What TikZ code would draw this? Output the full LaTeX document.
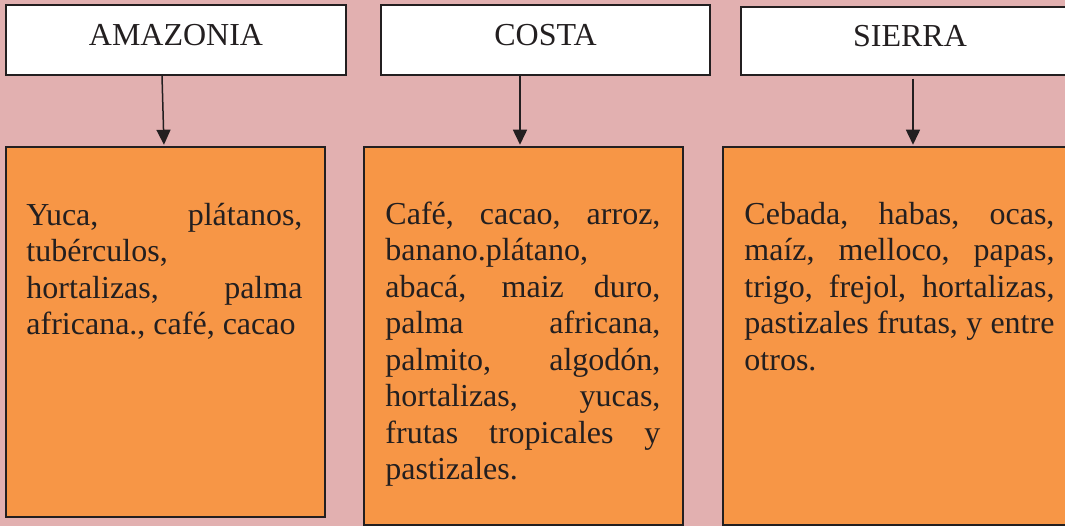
\documentclass[tikz,border=0pt]{standalone}
\usepackage{fontspec}
\setmainfont{Liberation Serif}
\usetikzlibrary{arrows.meta}
\definecolor{regPink}{HTML}{E2B0B0}
\definecolor{regOrange}{HTML}{F79646}
\definecolor{regInk}{HTML}{231F20}
\tikzset{
  reg header/.style={draw=regInk, fill=white, line width=1.5pt, inner sep=0pt, minimum height=70pt, text depth=11pt, font=\fontsize{32}{38}\selectfont, text=regInk},
  reg crop box/.style={draw=regInk, fill=regOrange, line width=1.5pt, inner sep=0pt, minimum width=319pt},
  reg crop text/.style={anchor=base west, inner sep=0pt, align=justify, text=regInk, font=\fontsize{32}{36.5}\selectfont},
  reg arrow/.style={draw=regInk, line width=1.5pt, -{Triangle[width=14pt,length=15pt]}},
}
\hyphenpenalty=10000
\tolerance=10000

\begin{document}
\begin{tikzpicture}[x=1pt,y=-1pt]
  \useasboundingbox (0,0) rectangle (1065,526);
  \clip (0,0) rectangle (1065,526);
  \fill[regPink] (0,0) rectangle (1065,526);

  % headers
  \node[reg header, minimum width=340pt] (amazonia) at (176,40) {AMAZONIA};
  \node[reg header, minimum width=329pt] (costa) at (545.5,40) {COSTA};
  \node[reg header, minimum width=338pt, minimum height=68pt] (sierra) at (910,41) {SIERRA};

  % crop boxes
  \node[reg crop box, minimum height=370pt] (amazoniaBox) at (165.5,332) {};
  \node[reg crop box, minimum height=378pt] (costaBox) at (523.5,336) {};
  \node[reg crop box, minimum height=378pt, minimum width=354pt] (sierraBox) at (900,336) {};

  \node[reg crop text, text width=276pt] (amazoniaTxt) at ([xshift=21pt,yshift=-79pt]amazoniaBox.north west)
    {Yuca, pl\'atanos,\linebreak tub\'erculos,\newline hortalizas, palma\linebreak africana., caf\'e, cacao};
  \node[reg crop text, text width=275pt] (costaTxt) at ([xshift=22pt,yshift=-78pt]costaBox.north west)
    {Caf\'e, cacao, arroz,\linebreak banano.pl\'atano,\newline abac\'a, maiz duro,\linebreak palma africana,\linebreak
     palmito, algod\'on,\linebreak hortalizas, yucas,\linebreak frutas tropicales y\linebreak pastizales.};
  \node[reg crop text, text width=310pt] (sierraTxt) at ([xshift=22pt,yshift=-78pt]sierraBox.north west)
    {Cebada, habas, ocas,\linebreak ma\'iz, melloco, papas,\linebreak trigo, frejol, hortalizas,\linebreak
     pastizales frutas, y entre\linebreak otros.};

  % connectors
  \draw[reg arrow, shorten >=1.5pt] ([xshift=-14pt]amazonia.south) -- ([xshift=-1.5pt]amazoniaBox.north);
  \draw[reg arrow, shorten >=1.5pt] ([xshift=-25.5pt]costa.south) -- ([xshift=-3.5pt]costaBox.north);
  \draw[reg arrow, shorten <=3pt, shorten >=1.5pt] ([xshift=3pt]sierra.south) -- ([xshift=13pt]sierraBox.north);
\end{tikzpicture}
\end{document}
